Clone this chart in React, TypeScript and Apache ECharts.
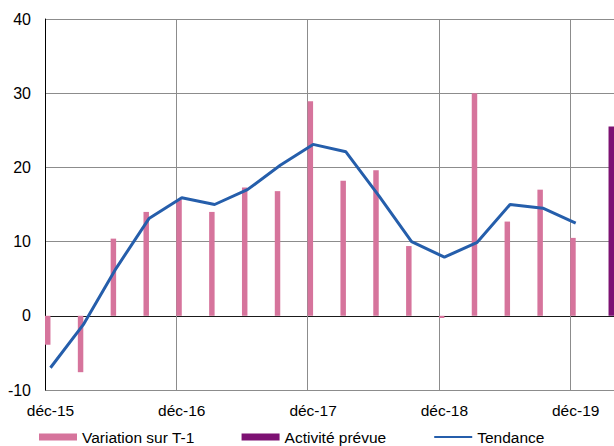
import React, { useEffect, useRef } from "react";
import * as echarts from "echarts";

// Quarterly observations, déc-15 … déc-19
const quarterLabels = [
  "déc-15", "mars-16", "juin-16", "sept-16",
  "déc-16", "mars-17", "juin-17", "sept-17",
  "déc-17", "mars-18", "juin-18", "sept-18",
  "déc-18", "mars-19", "juin-19", "sept-19",
  "déc-19",
];
const variation = [
  -3.9, -7.6, 10.4, 14.0,
  15.7, 14.0, 17.3, 16.8,
  28.9, 18.2, 19.6, 9.4,
  -0.3, 30.0, 12.7, 17.0,
  10.5,
];
const tendance = [
  -7.0, -1.2, 6.4, 13.1,
  15.9, 15.0, 17.0, 20.3,
  23.1, 22.1, 16.2, 10.0,
  7.9, 9.9, 15.0, 14.5,
  12.5,
];
// Forecast (mars-20)
const prevueLabel = "mars-20";
const prevue = [25.5];

const monthNames = ["janv", "févr", "mars", "avr", "mai", "juin", "juil", "août", "sept", "oct", "nov", "déc"];
const yTicks = { min: -10, max: 40, interval: 10 };

const PINK = "#D6749C";
const PURPLE = "#7D1173";
const BLUE = "#255EAB";
const GRID = "#8C8C8C";
const FONT = "'Liberation Sans', Arial, sans-serif";

export default function App() {
  const ref = useRef<HTMLDivElement>(null);

  useEffect(() => {
    if (!ref.current) return;
    const chart = echarts.init(ref.current, undefined, { renderer: "svg" });

    // monthly date axis from déc-15 to mars-20
    const months: string[] = [];
    for (let m = 0; m < 52; m++) {
      const idx = (11 + m) % 12;
      const yr = 15 + Math.floor((11 + m) / 12);
      months.push(`${monthNames[idx]}-${yr}`);
    }
    const varData = months.map(() => null as number | null);
    const tenData = months.map(() => null as number | null);
    const prevData = months.map(() => null as number | null);
    quarterLabels.forEach((q, i) => {
      const k = months.indexOf(q);
      varData[k] = variation[i];
      tenData[k] = tendance[i];
    });
    prevData[months.indexOf(prevueLabel)] = prevue[0];

    const splitColors = [];
    for (let v = yTicks.min; v <= yTicks.max; v += yTicks.interval) {
      splitColors.push(v === 0 ? "#1a1a1a" : GRID);
    }

    chart.setOption({
      animation: false,
      textStyle: { fontFamily: FONT },
      grid: { left: 45, top: 19, height: 371, width: 571, containLabel: false },
      legend: {
        left: 39,
        top: 429,
        padding: 0,
        itemWidth: 38,
        itemHeight: 7,
        itemGap: 47,
        textStyle: { fontFamily: FONT, fontSize: 15.5, color: "#000" },
        data: [
          { name: "Variation sur T-1", icon: "rect" },
          { name: "Activité prévue", icon: "rect" },
          { name: "Tendance", itemStyle: { opacity: 0 } },
        ],
      },
      xAxis: {
        type: "category",
        data: months,
        boundaryGap: true,
        axisLine: { show: false, onZero: false },
        axisTick: { show: false },
        axisLabel: {
          interval: (i: number) => i % 12 === 0,
          fontFamily: FONT,
          fontSize: 15.5,
          color: "#000",
          margin: 12,
        },
        splitLine: {
          show: true,
          interval: (i: number) => i % 12 === 0,
          lineStyle: { color: GRID, width: 1 },
        },
      },
      yAxis: {
        type: "value",
        min: yTicks.min,
        max: yTicks.max,
        interval: yTicks.interval,
        axisLine: { show: true, lineStyle: { color: "#000", width: 1 } },
        axisTick: { show: false },
        axisLabel: { fontFamily: FONT, fontSize: 16, color: "#000", margin: 14 },
        splitLine: { show: true, lineStyle: { color: splitColors, width: 1 } },
      },
      series: [
        {
          name: "Variation sur T-1",
          type: "bar",
          data: varData,
          barWidth: "50%",
          barGap: "0%",
          itemStyle: { color: PINK },
        },
        {
          name: "Activité prévue",
          type: "bar",
          data: prevData,
          barWidth: "50%",
          barGap: "0%",
          itemStyle: { color: PURPLE },
        },
        {
          name: "Tendance",
          type: "line",
          data: tenData,
          connectNulls: true,
          symbol: "none",
          lineStyle: { color: BLUE, width: 3 },
          itemStyle: { color: BLUE },
          z: 5,
        },
      ],
    });

    return () => chart.dispose();
  }, []);

  return (
    <div
      ref={ref}
      style={{ position: "fixed", left: 0, top: 0, width: 614, height: 446, background: "#fff" }}
    />
  );
}
